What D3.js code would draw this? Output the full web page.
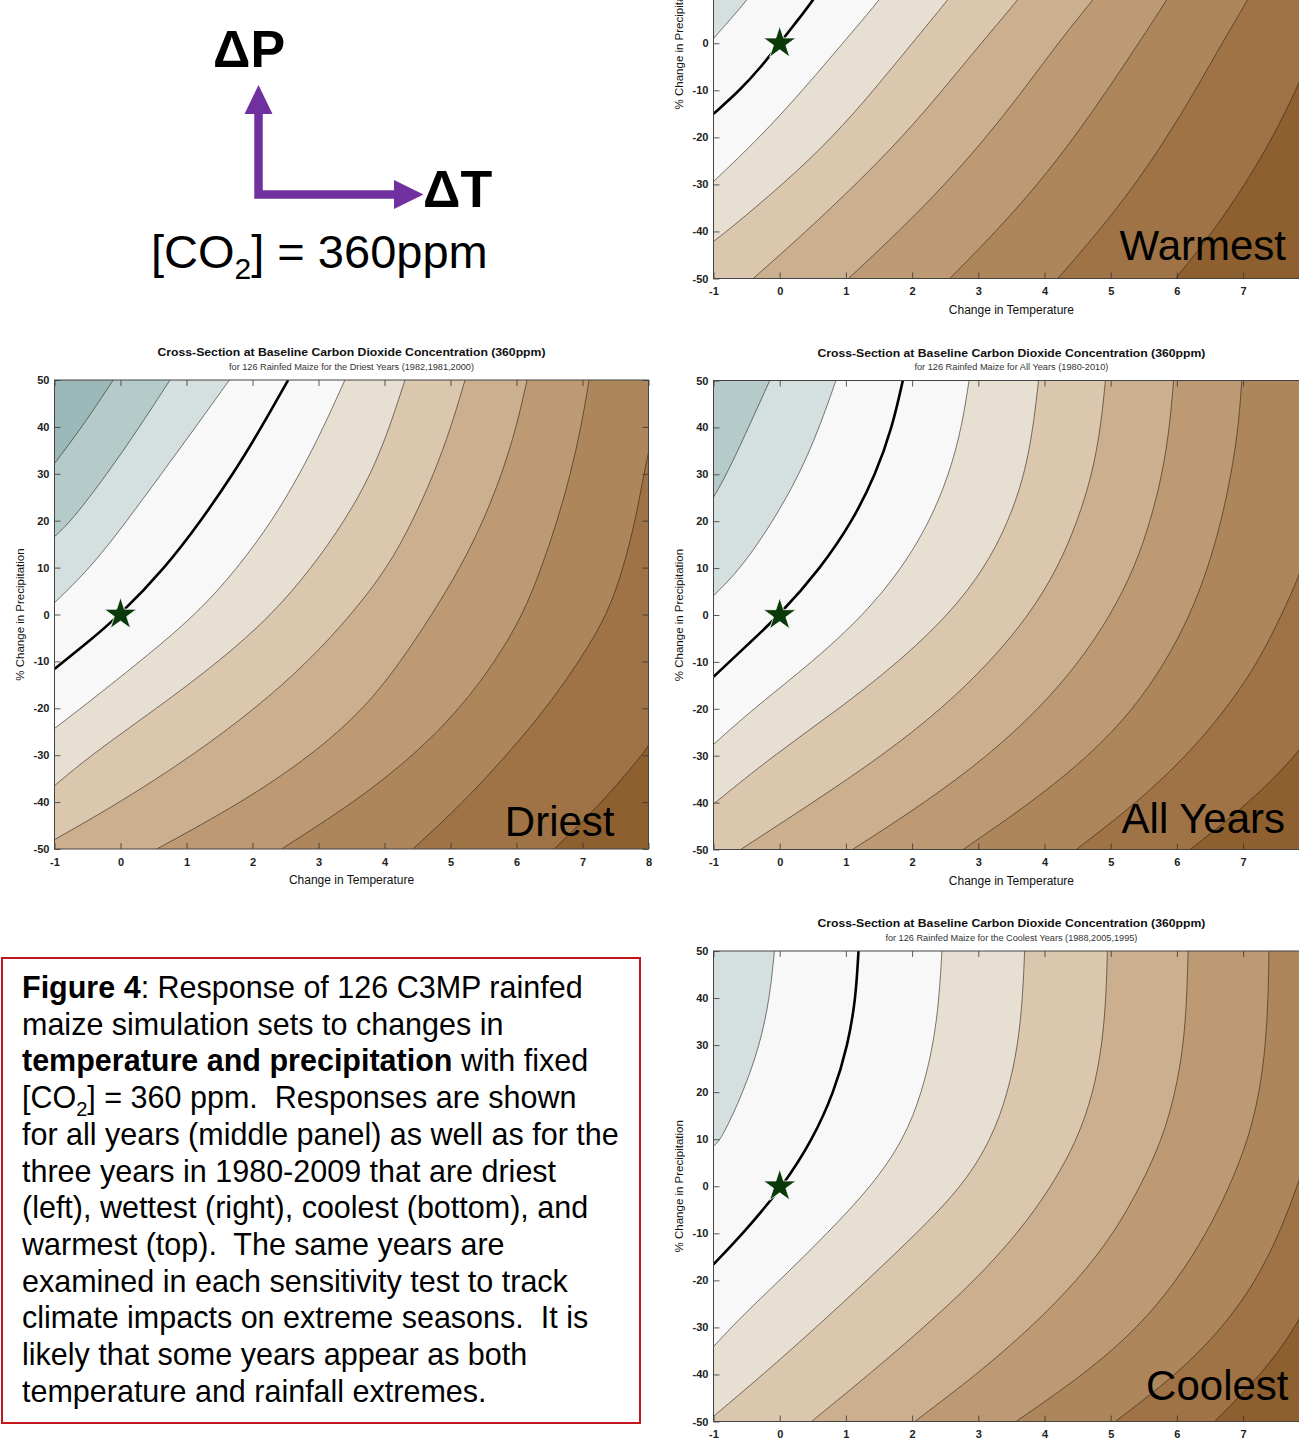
<!DOCTYPE html>
<html>
<head>
<meta charset="utf-8">
<script src="https://cdn.jsdelivr.net/npm/d3@7"></script>
<style>
  body { margin: 0; background: #fff; }
  svg { display: block; font-family: "Liberation Sans", Arial, Helvetica, sans-serif; }
</style>
</head>
<body>
<div id="chart"></div>
<script>
// axis ticks
var tempTicks = [-1, 0, 1, 2, 3, 4, 5, 6, 7, 8];
var precipTicks = [-50, -40, -30, -20, -10, 0, 10, 20, 30, 40, 50];

// contour fill colours, wet/cool (teal) -> hot/dry (brown)
var palette = ['#9cb9b9', '#b5cbca', '#d3e0df', '#f8f8f8', '#e8dfd3', '#dbc7ae',
               '#ccaf8f', '#bd9a74', '#ae865b', '#9f7345', '#8e5f2f'];

// contour lines, [dT, dP%], upper-left line first
var driestLines = [
  [[-1, 32.2], [-0.58, 40], [-0.11, 50]],
  [[-1, 16.6], [-0.74, 20], [-0.2, 30], [0.29, 40], [0.75, 50]],
  [[-1, 2.5], [-0.45, 10], [0.1, 20], [0.62, 30], [1.14, 40], [1.65, 50]],
  [[-1, -11.6], [-0.5, -6], [0, 0], [0.68, 10], [1.22, 20], [1.71, 30], [2.14, 40], [2.54, 50]],
  [[-1, -24.3], [-0.6, -20], [0.3, -10], [1.15, 0], [1.78, 10], [2.3, 20], [2.72, 30], [3.08, 40], [3.40, 50]],
  [[-1, -36.5], [-0.45, -30], [0.55, -20], [1.5, -10], [2.3, 0], [2.9, 10], [3.4, 20], [3.8, 30], [4.08, 40], [4.31, 50]],
  [[-1, -48], [0.0, -40], [1.1, -30], [2.05, -20], [2.85, -10], [3.5, 0], [4.05, 10], [4.43, 20], [4.75, 30], [5.01, 40], [5.22, 50]],
  [[0.55, -50], [1.85, -40], [2.9, -30], [3.7, -20], [4.25, -10], [4.72, 0], [5.15, 10], [5.5, 20], [5.78, 30], [6.0, 40], [6.16, 50]],
  [[2.44, -50], [3.55, -40], [4.45, -30], [5.15, -20], [5.68, -10], [6.1, 0], [6.38, 10], [6.62, 20], [6.82, 30], [6.98, 40], [7.10, 50]],
  [[4.43, -50], [5.2, -40], [5.85, -30], [6.45, -20], [6.95, -10], [7.38, 0], [7.62, 10], [7.8, 20], [7.93, 30], [8.0, 34.4], [8.1, 42]],
  [[6.57, -50], [7.3, -40], [7.78, -32], [8.0, -28.2], [8.2, -23]]
];
var driestBands = [0, 1, 2, 3, 3, 4, 5, 6, 7, 8, 9, 10];

var allLines = [
  [[-1, 25.1], [-0.8, 30], [-0.47, 40], [-0.15, 50]],
  [[-1, 4.1], [-0.58, 10], [-0.1, 20], [0.3, 30], [0.6, 40], [0.85, 50]],
  [[-1, -13.2], [-0.5, -6.5], [0, 0], [0.62, 10], [1.1, 20], [1.45, 30], [1.7, 40], [1.86, 50]],
  [[-1, -27.6], [-0.4, -20], [0.5, -10], [1.27, 0], [1.85, 10], [2.27, 20], [2.56, 30], [2.75, 40], [2.86, 50]],
  [[-1, -40.3], [-0.1, -30], [0.9, -20], [1.8, -10], [2.55, 0], [3.1, 10], [3.46, 20], [3.7, 30], [3.83, 40], [3.91, 50]],
  [[-0.59, -50], [0.5, -40], [1.55, -30], [2.45, -20], [3.18, -10], [3.77, 0], [4.2, 10], [4.5, 20], [4.72, 30], [4.85, 40], [4.92, 50]],
  [[1.10, -50], [2.2, -40], [3.15, -30], [3.92, -20], [4.53, -10], [5.0, 0], [5.36, 10], [5.6, 20], [5.78, 30], [5.89, 40], [5.95, 50]],
  [[2.77, -50], [3.8, -40], [4.68, -30], [5.35, -20], [5.83, -10], [6.2, 0], [6.47, 10], [6.67, 20], [6.82, 30], [6.93, 40], [6.98, 50]],
  [[4.48, -50], [5.4, -40], [6.15, -30], [6.75, -20], [7.23, -10], [7.58, 0], [7.84, 8], [8.0, 15], [8.15, 25]],
  [[6.2, -50], [7.1, -40], [7.84, -29.5], [8.3, -20]]
];
var allBands = [1, 2, 3, 3, 4, 5, 6, 7, 8, 9, 10];

var coolLines = [
  [[-1, 8.5], [-0.88, 10], [-0.55, 20], [-0.3, 30], [-0.15, 40], [-0.08, 50]],
  [[-1, -16.6], [-0.55, -10], [0.05, 0], [0.5, 10], [0.82, 20], [1.03, 30], [1.15, 40], [1.19, 50]],
  [[-1, -34.1], [-0.6, -28], [0.0, -20], [0.72, -10], [1.39, 0], [1.88, 10], [2.15, 20], [2.32, 30], [2.41, 40], [2.45, 50]],
  [[-1, -48.9], [-0.25, -40], [0.55, -30], [1.32, -20], [2.07, -10], [2.76, 0], [3.2, 10], [3.45, 20], [3.6, 30], [3.67, 40], [3.70, 50]],
  [[0.48, -50], [1.35, -40], [2.18, -30], [2.95, -20], [3.6, -10], [4.11, 0], [4.5, 10], [4.74, 20], [4.87, 30], [4.93, 40], [4.95, 50]],
  [[2.04, -50], [2.98, -40], [3.8, -30], [4.5, -20], [5.05, -10], [5.45, 0], [5.78, 10], [5.98, 20], [6.1, 30], [6.15, 40], [6.17, 50]],
  [[3.57, -50], [4.6, -40], [5.42, -30], [6.0, -20], [6.45, -10], [6.8, 0], [7.08, 10], [7.25, 20], [7.34, 30], [7.38, 40], [7.39, 50]],
  [[5.07, -50], [6.0, -40], [6.7, -30], [7.2, -20], [7.55, -10], [7.82, 0], [8.05, 10]],
  [[6.57, -50], [7.28, -40], [7.8, -30], [8.15, -20]]
];
var coolBands = [2, 3, 3, 4, 5, 6, 7, 8, 9, 10];

var warmLines = [
  [[-1, 1.0], [-0.75, 5], [-0.49, 9.2], [-0.25, 14]],
  [[-1, -15], [-0.6, -10], [-0.28, -5], [0, 0], [0.25, 4.5], [0.51, 9.2], [0.72, 14]],
  [[-1, -29.4], [-0.3, -20], [0.35, -10], [0.95, 0], [1.51, 9.2], [1.75, 14]],
  [[-1, -42.1], [-0.8, -40], [0.05, -30], [0.8, -20], [1.42, -10], [2.0, 0], [2.54, 9.2], [2.8, 14]],
  [[-0.40, -50], [0.4, -40], [1.15, -30], [1.85, -20], [2.46, -10], [3.04, 0], [3.60, 9.2], [3.85, 14]],
  [[1.04, -50], [1.8, -40], [2.5, -30], [3.12, -20], [3.68, -10], [4.2, 0], [4.73, 9.2], [5.0, 14]],
  [[2.57, -50], [3.27, -40], [3.9, -30], [4.45, -20], [4.95, -10], [5.42, 0], [5.85, 9.2], [6.05, 14]],
  [[4.20, -50], [4.82, -40], [5.37, -30], [5.85, -20], [6.28, -10], [6.68, 0], [7.07, 9.2], [7.25, 14]],
  [[5.98, -50], [6.55, -40], [7.03, -30], [7.45, -20], [7.8, -10], [8.1, 0]]
];
var warmBands = [2, 3, 3, 4, 5, 6, 7, 8, 9, 10];

// baseline climate (no change)
var baseline = [0, 0];

var plotTitle = 'Cross-Section at Baseline Carbon Dioxide Concentration (360ppm)';

var captionLines = [
  [['Figure 4', 'b'], [': Response of 126 C3MP rainfed', 'n']],
  [['maize simulation sets to changes in', 'n']],
  [['temperature and precipitation', 'b'], [' with fixed', 'n']],
  [['[CO', 'n'], ['2', 's'], ['] = 360 ppm.  Responses are shown', 'n']],
  [['for all years (middle panel) as well as for the', 'n']],
  [['three years in 1980-2009 that are driest', 'n']],
  [['(left), wettest (right), coolest (bottom), and', 'n']],
  [['warmest (top).  The same years are', 'n']],
  [['examined in each sensitivity test to track', 'n']],
  [['climate impacts on extreme seasons.  It is', 'n']],
  [['likely that some years appear as both', 'n']],
  [['temperature and rainfall extremes.', 'n']]
];

var width = 1299,
    height = 1440;
var svg = d3.select('#chart').append('svg')
        .attr('width', width)
        .attr('height', height);
svg.append('rect').attr('width', width).attr('height', height).attr('fill', '#fff');

var panels = [
  {key: 'driest', label: 'Driest', lines: driestLines, bands: driestBands, zero: 3,
   x0: 54.5, x1: 648.5, y0: 380, y1: 849, labelX: 614.5, labelY: 836,
   sub: 'for 126 Rainfed Maize for the Driest Years (1982,1981,2000)', subLen: 245},
  {key: 'all', label: 'All Years', lines: allLines, bands: allBands, zero: 2,
   x0: 713.5, x1: 1309.3, y0: 380.5, y1: 849.5, labelX: 1285, labelY: 833,
   sub: 'for 126 Rainfed Maize for All Years (1980-2010)', subLen: 194},
  {key: 'cool', label: 'Coolest', lines: coolLines, bands: coolBands, zero: 1,
   x0: 713.5, x1: 1309.3, y0: 951, y1: 1421.5, labelX: 1288.5, labelY: 1400,
   sub: 'for 126 Rainfed Maize for the Coolest Years (1988,2005,1995)', subLen: 252},
  {key: 'warm', label: 'Warmest', lines: warmLines, bands: warmBands, zero: 1,
   x0: 713.5, x1: 1309.3, y0: -192, y1: 278.5, labelX: 1286, labelY: 260,
   sub: null}
];

panels.forEach(drawPanel);

function drawPanel(p) {
    var x = d3.scaleLinear().domain([-1, 8]).range([p.x0, p.x1]);
    var y = d3.scaleLinear().domain([-50, 50]).range([p.y1, p.y0]);
    var g = svg.append('g');

    g.append('clipPath').attr('id', 'clip-' + p.key)
            .append('rect')
            .attr('x', p.x0).attr('y', p.y0)
            .attr('width', p.x1 - p.x0).attr('height', p.y1 - p.y0);

    var body = g.append('g').attr('clip-path', 'url(#clip-' + p.key + ')');
    body.append('rect')
            .attr('x', p.x0).attr('y', p.y0)
            .attr('width', p.x1 - p.x0).attr('height', p.y1 - p.y0)
            .attr('fill', palette[p.bands[0]]);

    var line = d3.line()
            .x(function (d) { return x(d[0]); })
            .y(function (d) { return y(d[1]); })
            .curve(d3.curveBasis);

    // each contour is closed round the lower-right corner; later bands paint over earlier ones
    body.selectAll('path.band').data(p.lines).enter().append('path')
            .attr('class', 'band')
            .attr('fill', function (d, i) { return palette[p.bands[i + 1]]; })
            .attr('d', function (d) {
                var first = d[0], last = d[d.length - 1];
                return line(d) +
                        'L' + x(10) + ',' + y(last[1]) +
                        'L' + x(10) + ',' + y(-60) +
                        'L' + x(first[0]) + ',' + y(-60) + 'Z';
            });

    body.selectAll('path.iso').data(p.lines).enter().append('path')
            .attr('class', 'iso')
            .attr('fill', 'none')
            .attr('stroke', function (d, i) { return i === p.zero ? '#000' : '#2a2118'; })
            .attr('stroke-width', function (d, i) { return i === p.zero ? 2.6 : 0.6; })
            .attr('d', line);

    body.append('path')
            .attr('d', d3.symbol(d3.symbolStar).size(330)())
            .attr('transform', 'translate(' + x(baseline[0]) + ',' + y(baseline[1]) + ')')
            .attr('fill', '#0a3a0a')
            .attr('stroke', '#fff')
            .attr('stroke-width', 0.8);

    // matlab style axes: ticks pointing in on all four sides
    var axisStyle = function (sel) {
        sel.select('.domain').remove();
        sel.selectAll('line').attr('stroke', '#333').attr('stroke-width', 0.8);
        sel.selectAll('text').attr('fill', '#222').style('font-size', '11px').style('font-weight', 'bold');
    };
    var plain = function (d) { return String(d); };
    g.append('g').attr('transform', 'translate(0,' + p.y1 + ')')
            .call(d3.axisBottom(x).tickValues(tempTicks).tickSize(-6).tickPadding(9).tickFormat(plain))
            .call(axisStyle);
    g.append('g').attr('transform', 'translate(0,' + p.y0 + ')')
            .call(d3.axisTop(x).tickValues(tempTicks).tickSize(-6).tickFormat(''))
            .call(axisStyle);
    g.append('g').attr('transform', 'translate(' + p.x0 + ',0)')
            .call(d3.axisLeft(y).tickValues(precipTicks).tickSize(-6).tickPadding(5).tickFormat(plain))
            .call(axisStyle);
    g.append('g').attr('transform', 'translate(' + p.x1 + ',0)')
            .call(d3.axisRight(y).tickValues(precipTicks).tickSize(-6).tickFormat(''))
            .call(axisStyle);

    g.append('rect')
            .attr('x', p.x0).attr('y', p.y0)
            .attr('width', p.x1 - p.x0).attr('height', p.y1 - p.y0)
            .attr('fill', 'none').attr('stroke', '#444').attr('stroke-width', 1);

    var cx = (p.x0 + p.x1) / 2;
    g.append('text').attr('x', cx).attr('y', p.y1 + 35)
            .attr('text-anchor', 'middle').attr('fill', '#111')
            .style('font-size', '12px')
            .text('Change in Temperature');
    g.append('text')
            .attr('transform', 'translate(' + (p.x0 - 30.5) + ',' + ((p.y0 + p.y1) / 2) + ')rotate(-90)')
            .attr('text-anchor', 'middle').attr('fill', '#111')
            .style('font-size', '11.5px')
            .text('% Change in Precipitation');

    if (p.sub) {
        g.append('text').attr('x', cx).attr('y', p.y0 - 24)
                .attr('text-anchor', 'middle').attr('fill', '#111')
                .attr('textLength', 388).attr('lengthAdjust', 'spacingAndGlyphs')
                .style('font-size', '11.5px').style('font-weight', 'bold')
                .text(plotTitle);
        g.append('text').attr('x', cx).attr('y', p.y0 - 10.5)
                .attr('text-anchor', 'middle').attr('fill', '#333')
                .attr('textLength', p.subLen).attr('lengthAdjust', 'spacingAndGlyphs')
                .style('font-size', '8.5px')
                .text(p.sub);
    }

    g.append('text').attr('x', p.labelX).attr('y', p.labelY)
            .attr('text-anchor', 'end').attr('fill', '#000')
            .style('font-size', '42px')
            .text(p.label);
}

// key in the upper left corner
var key = svg.append('g');
var purple = '#7030a0';
key.append('path')
        .attr('d', 'M258.5,112 L258.5,194.5 L395,194.5')
        .attr('fill', 'none').attr('stroke', purple).attr('stroke-width', 8.5)
        .attr('stroke-linejoin', 'miter');
key.append('path').attr('d', 'M258.5,85 L244.5,114 L272.5,114 Z').attr('fill', purple);
key.append('path').attr('d', 'M423.5,194.5 L394,180 L394,209 Z').attr('fill', purple);
key.append('text').attr('x', 213).attr('y', 67)
        .style('font-size', '52px').style('font-weight', 'bold').text('\u0394P');
key.append('text').attr('x', 423).attr('y', 207)
        .style('font-size', '52px').style('font-weight', 'bold').text('\u0394T');
var co2 = key.append('text').attr('x', 151).attr('y', 268).style('font-size', '47px');
co2.append('tspan').text('[CO');
co2.append('tspan').attr('dy', 11).style('font-size', '30px').text('2');
co2.append('tspan').attr('dy', -11).text('] = 360ppm');

// caption box
var cap = svg.append('g');
cap.append('rect').attr('x', 2).attr('y', 958).attr('width', 638).attr('height', 465)
        .attr('fill', '#fff').attr('stroke', '#c0161c').attr('stroke-width', 2);
captionLines.forEach(function (parts, i) {
    var t = cap.append('text').attr('x', 22).attr('y', 998 + i * 36.7)
            .style('font-size', '30.5px').style('white-space', 'pre').attr('fill', '#000');
    var lowered = false;
    parts.forEach(function (seg) {
        var ts = t.append('tspan').text(seg[0]);
        if (seg[1] === 'b') ts.style('font-weight', 'bold');
        if (seg[1] === 's') {
            ts.attr('dy', 8).style('font-size', '20px');
            lowered = true;
        } else if (lowered) {
            ts.attr('dy', -8);
            lowered = false;
        }
    });
});
</script>
</body>
</html>
